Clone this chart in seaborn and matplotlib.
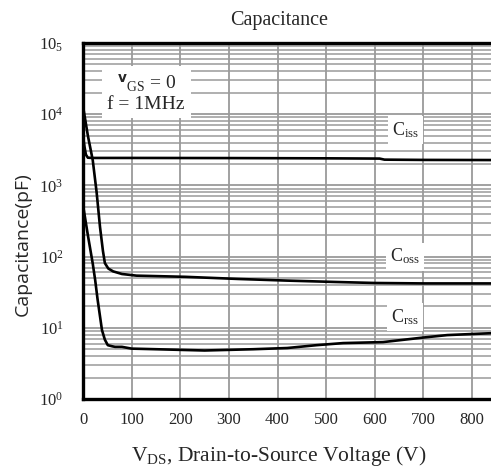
import numpy as np
import pandas as pd
import matplotlib
matplotlib.use("Agg")
import matplotlib.pyplot as plt
import matplotlib.ticker as mticker
import seaborn as sns

# ---- data ----
ciss_v = [0, 3, 6, 10, 20, 100, 300, 500, 610, 620, 700, 840]
ciss_c = [5000, 3500, 2700, 2450, 2430, 2430, 2420, 2400, 2380, 2300, 2280, 2270]

coss_v = [0, 2, 10, 20, 28, 35, 41, 45, 52, 62, 80, 110, 160, 210, 320, 420, 520, 600, 700, 840]
coss_c = [13000, 10700, 5000, 2270, 800, 260, 120, 81, 68, 62, 57, 54, 53, 52, 48.5, 46, 44, 42.6, 42, 42]

crss_v = [0, 10, 20, 25, 30, 39, 45, 51, 60, 66, 80, 100, 150, 250, 350, 420, 480, 535, 617, 700, 749, 840]
crss_c = [530, 200, 80, 47, 25, 9.3, 6.8, 5.7, 5.5, 5.4, 5.4, 5.1, 5.0, 4.8, 5.0, 5.2, 5.7, 6.1, 6.3, 7.3, 7.9, 8.4]

x_ticks = [0, 100, 200, 300, 400, 500, 600, 700, 800]
y_ticks = [1, 10, 100, 1000, 10000, 100000]
y_ticklabels = [r"$\mathrm{10^{0}}$", r"$\mathrm{10^{1}}$", r"$\mathrm{10^{2}}$",
                r"$\mathrm{10^{3}}$", r"$\mathrm{10^{4}}$", r"$\mathrm{10_{5}}$"]

df = pd.concat([
    pd.DataFrame({"V": ciss_v, "C": ciss_c, "s": "Ciss"}),
    pd.DataFrame({"V": coss_v, "C": coss_c, "s": "Coss"}),
    pd.DataFrame({"V": crss_v, "C": crss_c, "s": "Crss"}),
])

sns.set_style("white")
plt.rcParams["font.family"] = ["Liberation Serif", "DejaVu Serif"]
plt.rcParams["mathtext.fontset"] = "custom"
plt.rcParams["mathtext.rm"] = "Liberation Serif"
plt.rcParams["mathtext.it"] = "Liberation Serif:italic"

fig = plt.figure(figsize=(4.91, 4.68), dpi=100)
ax = fig.add_axes([83 / 491, 69 / 468, 1 - 83 / 491, 356 / 468])

sns.lineplot(data=df, x="V", y="C", units="s", estimator=None, color="black",
             linewidth=1.9, ax=ax, zorder=5, sort=False)

ax.set_yscale("log")
ax.set_xlim(0, 839)
ax.set_ylim(1, 1e5)
ax.set_xticks(x_ticks)
ax.set_xticklabels([str(t) for t in x_ticks], fontsize=12)
ax.set_yticks(y_ticks)
ax.set_yticklabels(y_ticklabels, fontsize=12)
ax.yaxis.set_minor_locator(mticker.LogLocator(base=10, subs=np.arange(2, 10), numticks=20))
ax.yaxis.set_minor_formatter(mticker.NullFormatter())
ax.tick_params(axis="both", which="both", length=0, pad=9)
ax.tick_params(axis="y", pad=14)

ax.grid(True, which="major", axis="both", color="#9a9a9a", linewidth=1.3)
ax.grid(True, which="minor", axis="y", color="#9a9a9a", linewidth=1.1)
ax.set_axisbelow(True)

for side in ["left", "bottom", "top"]:
    ax.spines[side].set_linewidth(2.4)
    ax.spines[side].set_color("black")
ax.spines["right"].set_visible(False)

ax.set_xlabel(r"V$_{\mathrm{DS}}$, Drain-to-Source Voltage (V)", fontsize=15.5, labelpad=6)
ax.set_ylabel("Capacitance(pF)", fontsize=14, family=["Open Sans", "DejaVu Sans"])
ax.yaxis.set_label_coords(-0.125, 0.435)
ax.xaxis.set_label_coords(0.48, -0.125)
ax.set_title("Capacitance", fontsize=14.5, pad=13, x=0.48)

box = dict(facecolor="white", edgecolor="none", pad=3)
ax.text(0.155, 0.86, r"${}^{\mathbf{v}}{}_{\mathrm{GS}}$ = 0" + "\nf = 1MHz", transform=ax.transAxes,
        fontsize=14, ha="center", va="center", linespacing=1.1,
        bbox=dict(facecolor="white", edgecolor="none", pad=4), zorder=4)
ax.text(0.79, 0.756, r"C$_{\mathrm{iss}}$", transform=ax.transAxes, fontsize=13,
        ha="center", va="center", bbox=box, zorder=4)
ax.text(0.79, 0.40, r"C$_{\mathrm{oss}}$", transform=ax.transAxes, fontsize=13,
        ha="center", va="center", bbox=box, zorder=4)
ax.text(0.79, 0.23, r"C$_{\mathrm{rss}}$", transform=ax.transAxes, fontsize=13,
        ha="center", va="center", bbox=box, zorder=4)

fig.savefig("out.png", dpi=100)
